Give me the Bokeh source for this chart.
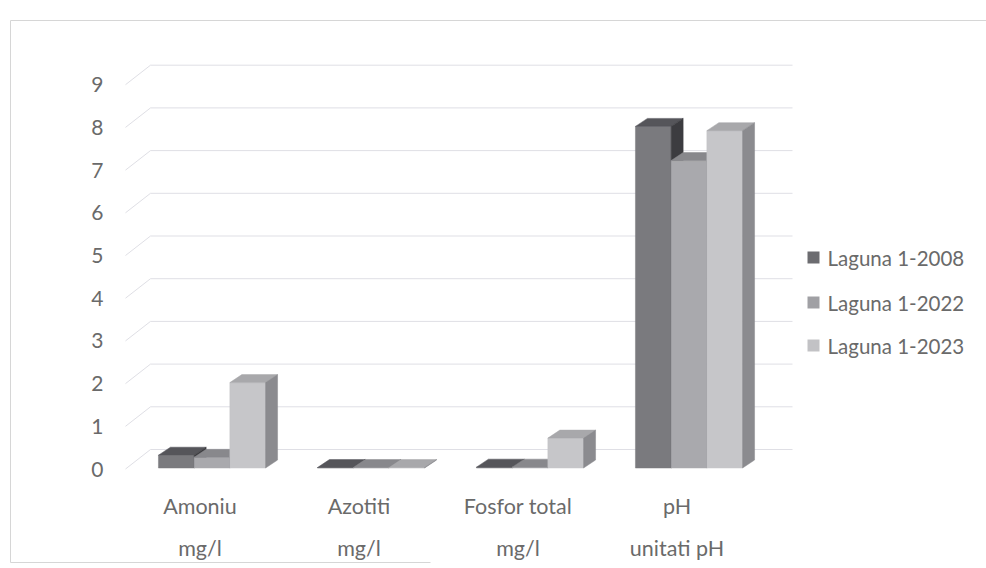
from bokeh.plotting import figure
from bokeh.models import Range1d
from bokeh.core.properties import value
from bokeh.embed import file_html
from bokeh.resources import INLINE

# ---- data -------------------------------------------------------------
categories = ["Amoniu", "Azotiti", "Fosfor total", "pH"]
units = ["mg/l", "mg/l", "mg/l", "unitati pH"]
series = ["Laguna 1-2008", "Laguna 1-2022", "Laguna 1-2023"]
laguna_2008 = [0.3, 0.01, 0.02, 8.0]
laguna_2022 = [0.25, 0.01, 0.02, 7.2]
laguna_2023 = [2.0, 0.01, 0.7, 7.9]
y_ticks = [0, 1, 2, 3, 4, 5, 6, 7, 8, 9]

# ---- styling ----------------------------------------------------------
# (front face, top face, right side face) per series
face_colors = [
    ("#7a7a7e", "#55555a", "#3c3c40"),
    ("#a9a9ad", "#88888c", "#6a6a6e"),
    ("#c6c6c9", "#a8a8ab", "#8b8b8f"),
]
legend_colors = ["#6c6c70", "#a0a0a4", "#c2c2c5"]
TEXT_COLOR = "#6a6a6a"
GRID_COLOR = "#dfdfe5"
FONT = "Lato"

W, H = 986, 568

# pixel layout of the chart: category spacing, value scale and baseline
CAT_PX = 159.0
CAT0_PX = 211.5
UNIT_PX = 42.7
BASE_PX = 467.5


def sx(px):
    return (px - CAT0_PX) / CAT_PX


def sy(py):
    return (BASE_PX - py) / UNIT_PX


p = figure(
    width=W, height=H,
    x_range=Range1d(sx(0), sx(W)),
    y_range=Range1d(sy(H), sy(0)),
    x_axis_type=None, y_axis_type=None,
    toolbar_location=None, output_backend="svg",
    min_border=0, outline_line_color=None,
    background_fill_color="white", border_fill_color="white",
)

# ---- chart area border ------------------------------------------------
p.line(x=[sx(10), sx(W)], y=[sy(20), sy(20)], line_color="#d6d6d6", line_width=1)
p.line(x=[sx(10), sx(10)], y=[sy(20), sy(562)], line_color="#d6d6d6", line_width=1)
p.line(x=[sx(10), sx(430)], y=[sy(562), sy(562)], line_color="#d6d6d6", line_width=1)

# ---- walls: back-wall gridlines and side-wall depth lines -------------
front_off = sy(468.5)
back_off = sy(449)
wall_left, wall_back_left, wall_right = sx(125), sx(150), sx(792)
p.multi_line(
    xs=[[wall_back_left, wall_right] for _ in y_ticks],
    ys=[[v + back_off, v + back_off] for v in y_ticks],
    line_color=GRID_COLOR, line_width=1,
)
p.multi_line(
    xs=[[wall_left, wall_back_left] for _ in y_ticks],
    ys=[[v + front_off, v + back_off] for v in y_ticks],
    line_color=GRID_COLOR, line_width=1,
)

# ---- 3-D columns --------------------------------------------------------
bar_w = 35.7 / CAT_PX
depth_x = 12 / CAT_PX
depth_y = 8 / UNIT_PX

xs, ys, fills = [], [], []
all_series = [laguna_2008, laguna_2022, laguna_2023]
for i in range(len(categories)):
    for k, vals in enumerate(all_series):
        h = vals[i]
        x0 = i - 1.5 * bar_w + k * bar_w
        x1 = x0 + bar_w
        front, top, side = face_colors[k]
        xs.append([x0, x1, x1, x0]); ys.append([0, 0, h, h]); fills.append(front)
        xs.append([x0, x1, x1 + depth_x, x0 + depth_x]); ys.append([h, h, h + depth_y, h + depth_y]); fills.append(top)
        xs.append([x1, x1 + depth_x, x1 + depth_x, x1]); ys.append([0, depth_y, h + depth_y, h]); fills.append(side)

p.patches(xs=xs, ys=ys, fill_color=fills, line_color=fills, line_width=0.5)

# ---- value axis labels --------------------------------------------------
p.text(
    x=[sx(103)] * len(y_ticks), y=[v + front_off for v in y_ticks],
    text=[str(v) for v in y_ticks],
    text_align="right", text_baseline="middle",
    text_font=value(FONT), text_font_size="21px", text_color=TEXT_COLOR,
)

# ---- category labels ------------------------------------------------------
label_shift = -12 / CAT_PX
cat_x = [i + label_shift for i in range(len(categories))]
p.text(
    x=cat_x, y=[sy(505)] * len(categories), text=categories,
    text_align="center", text_baseline="middle",
    text_font=value(FONT), text_font_size="21.5px", text_color=TEXT_COLOR,
)
p.text(
    x=cat_x, y=[sy(547)] * len(units), text=units,
    text_align="center", text_baseline="middle",
    text_font=value(FONT), text_font_size="21.5px", text_color=TEXT_COLOR,
)

# ---- legend ---------------------------------------------------------------
legend_y = [sy(257), sy(302), sy(345)]
p.scatter(
    x=[sx(813)] * len(series), y=legend_y, marker="square", size=12,
    fill_color=legend_colors, line_color=None,
)
p.text(
    x=[sx(827)] * len(series), y=legend_y, text=series,
    text_align="left", text_baseline="middle",
    text_font=value(FONT), text_font_size="20.5px", text_color=TEXT_COLOR,
)

open("out.html", "w").write(file_html(p, INLINE))
